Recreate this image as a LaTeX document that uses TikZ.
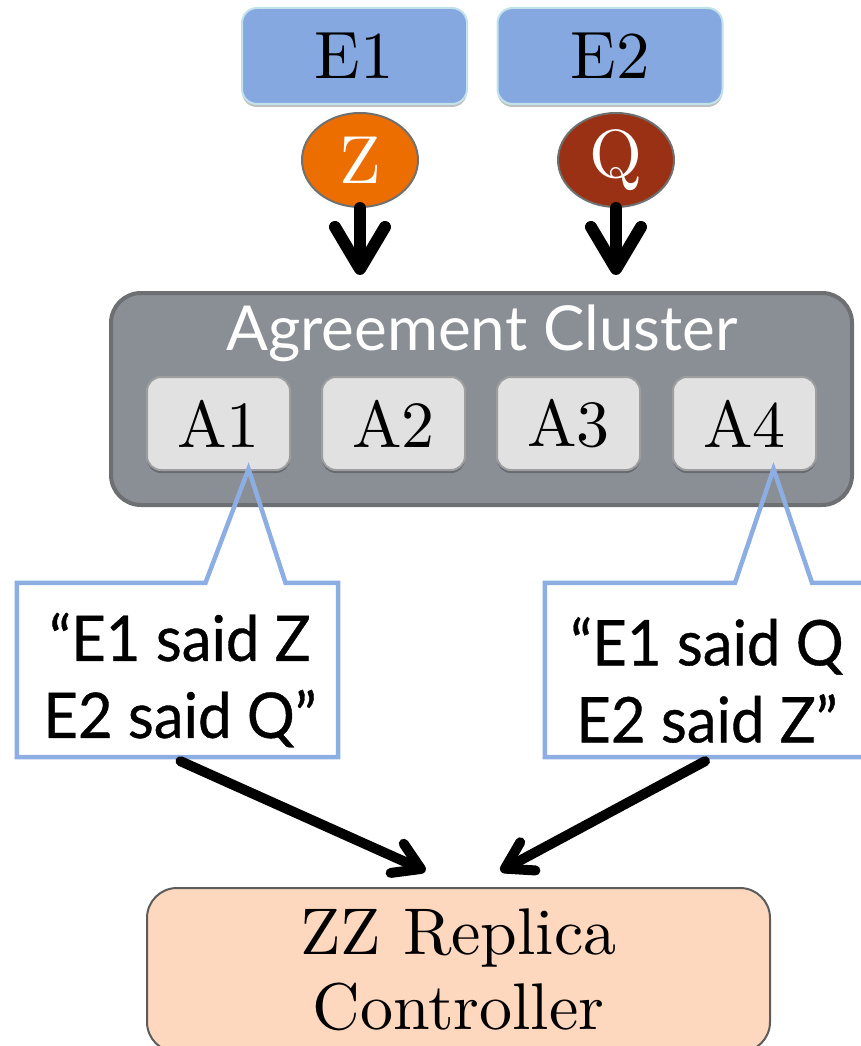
\documentclass[tikz,border=0pt]{standalone}
\usepackage{fontspec}
\setmainfont{lmroman10-regular.otf}
\newfontfamily\humsans{Lato}
\newfontfamily\saysans{Lato}[FakeStretch=0.95, FakeBold=0.6]
\usetikzlibrary{shapes.geometric,arrows.meta,shadows,calc}

\definecolor{entityblue}{HTML}{86A8E0}
\definecolor{entityedge}{HTML}{C2E2EA}
\definecolor{zorange}{HTML}{EC6E00}
\definecolor{qred}{HTML}{9A3114}
\definecolor{voteedge}{HTML}{707070}
\definecolor{clusterfill}{HTML}{8A8E95}
\definecolor{clusteredge}{HTML}{6D6F73}
\definecolor{afill}{HTML}{E1E1E1}
\definecolor{aedge}{HTML}{9E9E9E}
\definecolor{bubbleblue}{HTML}{8CAEE3}
\definecolor{ctrlfill}{HTML}{FDD8BE}
\definecolor{ctrledge}{HTML}{5C5C5C}

\tikzset{
  softshadow/.style={drop shadow={shadow xshift=0pt, shadow yshift=-3pt, opacity=0.25, fill=black}},
  ebox/.style={rectangle, rounded corners=15pt, draw=entityedge, line width=2pt,
    fill=entityblue, minimum width=225pt, minimum height=96pt, inner sep=0pt,
    font=\fontsize{67}{75}\selectfont, softshadow},
  vote/.style={ellipse, draw=voteedge, line width=2pt, minimum width=116pt,
    minimum height=94pt, inner sep=0pt, text=white, font=\fontsize{68}{70}\selectfont},
  cluster/.style={rectangle, rounded corners=30pt, draw=clusteredge, line width=4pt,
    fill=clusterfill, minimum width=741pt, minimum height=212pt, inner sep=0pt},
  clustertitle/.style={text=white, inner sep=0pt, font=\humsans\fontsize{62}{70}\selectfont},
  abox/.style={rectangle, rounded corners=14pt, draw=aedge, line width=2pt, fill=afill,
    minimum width=143pt, minimum height=93pt, inner sep=0pt,
    font=\fontsize{66}{75}\selectfont, softshadow},
  bubblearea/.style={rectangle, minimum width=#1, minimum height=174pt, inner sep=0pt},
  bubble/.style={draw=bubbleblue, line width=4.5pt, line join=miter},
  saytext/.style={align=center, inner sep=0pt, font=\saysans\fontsize{63}{77}\selectfont},
  ctrl/.style={rectangle, rounded corners=30pt, draw=ctrledge, line width=2pt, fill=ctrlfill,
    minimum width=623pt, minimum height=164pt, inner sep=0pt, align=center,
    font=\fontsize{66}{75}\selectfont},
  bigflow/.style={line width=12pt, line cap=round,
    -{Straight Barb[length=42pt, width=50pt, round]}},
  flow/.style={line width=10pt, line cap=round,
    -{Straight Barb[length=26pt, width=32pt, round]}},
}

\begin{document}
\begin{tikzpicture}[x=1pt, y=-1pt]
\useasboundingbox (0,0) rectangle (861,1046);
\clip (0,0) rectangle (861,1046);

% senders and their votes
\node[ebox] (E1) at (354.5,56) {E1};
\node[ebox] (E2) at (610,56) {E2};
\node[vote, fill=zorange] (Z) at (360,160) {Z};
\node[vote, fill=qred] (Q) at (616,160) {Q};

% agreement cluster with its four members
\node[cluster] (cl) at (481.5,399) {};
\node[clustertitle, anchor=base] (ct) at (482,350) {Agreement Cluster};
\node[abox] (A1) at (218.5,423.5) {A1};
\node[abox] (A2) at (393.5,423.5) {A2};
\node[abox] (A3) at (568.5,423.5) {A3};
\node[abox] (A4) at (744.5,423.5) {A4};

% votes flowing into the cluster
\coordinate (zin) at (Z.south |- cl.north);
\coordinate (qin) at (Q.south |- cl.north);
\draw[bigflow, shorten >=16pt] (Z.south) -- (zin);
\draw[bigflow, shorten >=16pt] (Q.south) -- (qin);

% speech bubbles
\node[bubblearea=321pt] (lb) at (177.5,670) {};
\node[bubblearea=330pt] (rb) at (710,670) {};
\coordinate (ltip) at ([xshift=30pt, yshift=2pt]A1.south);
\coordinate (rtip) at ([xshift=29pt, yshift=2pt]A4.south);
\draw[bubble] (lb.north west) -- ([xshift=28pt]lb.north) -- (ltip)
  -- ([xshift=108pt]lb.north) -- (lb.north east) -- (lb.south east)
  -- (lb.south west) -- cycle;
\draw[bubble] (rb.north west) -- ([xshift=25pt]rb.north) -- (rtip)
  -- ([xshift=102pt]rb.north) -- (rb.north east) -- (rb.south east)
  -- (rb.south west) -- cycle;
\node[saytext] (lbt) at (180,680) {“E1 said Z\\E2 said Q”};
\node[saytext] (rbt) at (707,680) {“E1 said Q\\E2 said Z”};

% replica controller
\node[ctrl] (rc) at (458.5,970) {ZZ Replica\\Controller};
\coordinate (rcl) at ([xshift=-33pt, yshift=16pt]rc.north);
\coordinate (rcr) at ([xshift=42pt, yshift=16pt]rc.north);
\draw[flow] ([xshift=3pt, yshift=-4pt]lb.south) -- (rcl);
\draw[flow] ([xshift=-5pt, yshift=-4pt]rb.south) -- (rcr);
\end{tikzpicture}
\end{document}
